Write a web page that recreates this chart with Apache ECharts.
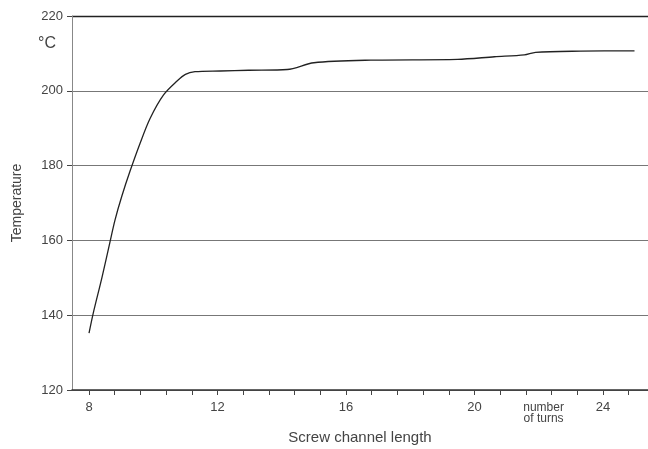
<!DOCTYPE html>
<html><head><meta charset="utf-8">
<script src="https://cdn.jsdelivr.net/npm/echarts@6/dist/echarts.min.js"></script>
<style>html,body{margin:0;padding:0;background:#fff}#c{width:648px;height:449px}</style>
</head><body><div id="c"></div>
<script>
var turns = [8.0, 8.13, 8.40, 8.65, 8.81, 9.02, 9.28, 9.59, 9.90, 10.32, 10.74, 11.0, 11.3, 12.09, 12.97, 14.17, 15.0, 16.77, 19.47, 20.62, 21.55, 21.9, 23.31, 24.98];
var temperature = [135.2, 140.5, 150.0, 159.5, 165.5, 171.8, 178.6, 186.0, 192.6, 198.9, 202.6, 204.4, 205.1, 205.3, 205.5, 205.7, 207.5, 208.2, 208.4, 209.1, 209.6, 210.3, 210.6, 210.7];
var xTickValues = [8, 8.8, 9.6, 10.4, 11.2, 12, 12.8, 13.6, 14.4, 15.2, 16, 16.8, 17.6, 18.4, 19.2, 20, 20.8, 21.6, 22.4, 23.2, 24, 24.8];
var xLabelValues = [8, 12, 16, 20, 22.15, 24];
var xLabelTexts = ['8', '12', '16', '20', 'number\nof turns', '24'];
var yTicks = [120, 140, 160, 180, 200, 220];

var chart = echarts.init(document.getElementById('c'));
chart.setOption({
  animation: false,
  backgroundColor: '#fff',
  grid: {left: 72, top: 16, right: 0, bottom: 59, containLabel: false, outerBoundsMode: 'none'},
  xAxis: {
    type: 'value', min: 7.47, max: 25.4,
    name: 'Screw channel length', nameLocation: 'middle', nameGap: 40,
    nameTextStyle: {fontFamily: 'Liberation Sans', fontSize: 15, color: '#444'},
    axisLine: {show: true, lineStyle: {color: '#333', width: 1.5}},
    axisTick: {show: true, length: 5, customValues: xTickValues, lineStyle: {color: '#444'}},
    axisLabel: {
      customValues: xLabelValues, margin: 12, color: '#444', fontFamily: 'Liberation Sans', fontSize: 13,
      lineHeight: 11,
      rich: {s: {fontSize: 12, lineHeight: 11, color: '#444', fontFamily: 'Liberation Sans'}},
      formatter: function (v) {
        for (var i = 0; i < xLabelValues.length; i++) if (Math.abs(v - xLabelValues[i]) < 1e-6) {
          var t = xLabelTexts[i];
          if (t.indexOf('\n') >= 0) return t.split('\n').map(function (p) { return '{s|' + p + '}'; }).join('\n');
          return t;
        }
        return '';
      }
    },
    splitLine: {show: false}
  },
  yAxis: {
    type: 'value', min: 120, max: 220, interval: 20,
    name: 'Temperature', nameLocation: 'middle', nameGap: 48,
    nameTextStyle: {fontFamily: 'Liberation Sans', fontSize: 14, color: '#444'},
    axisLine: {show: true, lineStyle: {color: '#888', width: 1}},
    axisTick: {show: true, length: 5, lineStyle: {color: '#444'}},
    axisLabel: {color: '#444', fontFamily: 'Liberation Sans', fontSize: 13, margin: 9},
    splitLine: {show: true, lineStyle: {color: ['#777', '#777', '#777', '#777', '#777', '#222'], width: 1}}
  },
  graphic: [{
    type: 'text', left: 38, top: 36,
    style: {text: '°C', fontFamily: 'Liberation Sans', fontSize: 16, fill: '#444'}
  }, {
    type: 'line', shape: {x1: 72, y1: 16.5, x2: 648, y2: 16.5}, style: {stroke: '#222', lineWidth: 1.5}, silent: true
  }],
  series: [{
    type: 'line',
    data: turns.map(function (t, i) { return [t, temperature[i]]; }),
    smooth: 0.3, showSymbol: false,
    lineStyle: {color: '#222', width: 1.3}
  }]
});
</script></body></html>
